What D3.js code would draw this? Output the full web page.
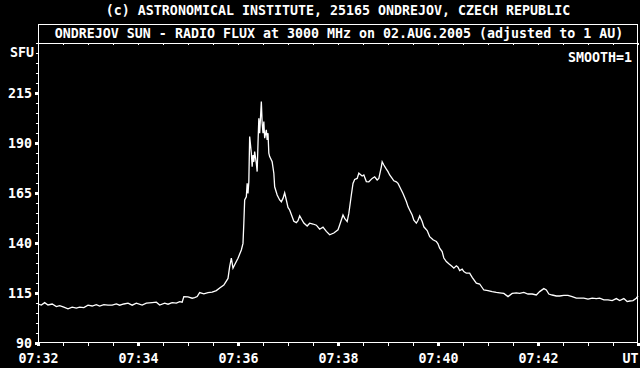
<!DOCTYPE html>
<html>
<head>
<meta charset="utf-8">
<script src="https://cdn.jsdelivr.net/npm/d3@7"></script>
<style>
  body { margin: 0; background: #000; }
  text { font-family: "DejaVu Sans Mono", monospace; font-weight: bold; font-size: 13.3px; fill: #fff; }
</style>
</head>
<body>
<div id="fluxChart"></div>
<script>
// data: seconds after 07:32:00 UT and flux in SFU
var timeSec = [0,4,8,12,17,22,26,31,36,41,46,50,55,60,65,70,74,79,84,89,94,98,103,108,113,118,
  125,130,137,142,146,152,156,161,166,170,173,175,180,185,188,191,194,199,204,209,214,218,223,
  228,230,232,234,236,240,244,246,247,248,250,251,252,253,254,256,257,258,259,260,262,263,264,265,
  266,268,269,270,271,272,274,275,276,277,278,281,283,284,287,290,292,294,296,298,300,302,305,307,
  310,312,314,317,319,323,326,330,334,338,342,346,350,355,360,362,366,368,371,373,376,378,380,383,
  385,389,391,394,397,401,404,407,409,412,413,415,418,420,422,425,427,430,432,434,438,442,444,446,
  449,451,454,456,458,461,463,467,470,474,478,480,482,485,487,490,493,497,499,502,504,506,509,511,
  514,518,521,526,530,535,540,545,550,554,559,564,569,574,578,583,588,593,598,602,607,610,613,617,
  622,626,631,636,641,646,650,655,660,665,670,674,679,684,689,694,698,703,707,710,714,718,720];
var fluxSfu = [109.5,109.0,110.2,109.0,109.5,108.2,108.7,107.9,107.1,107.9,107.4,107.9,107.7,108.9,
  108.5,109.2,108.5,109.2,108.9,108.9,109.5,108.9,109.5,109.9,108.9,109.9,
  109.0,109.9,110.2,110.4,109.0,109.9,109.4,110.2,109.9,110.7,110.4,113.2,113.1,112.4,112.7,113.2,
  115.2,114.6,115.2,115.4,116.2,117.5,119.0,
  122.3,128.2,132.4,127.4,129.1,132.4,136.5,139.8,149.9,161.5,163.1,169.8,164.8,170.6,193.2,185.0,
  178.1,184.0,180.6,185.7,179.8,175.7,189.8,202.4,
  194.9,210.7,199.9,194.9,200.7,192.4,196.6,191.5,194.9,184.9,183.2,180.6,174.9,168.1,164.0,161.5,
  160.6,162.3,165.1,161.5,157.8,156.5,153.1,150.9,
  150.2,151.2,153.6,151.4,150.0,148.5,149.9,149.5,148.9,146.9,147.9,145.8,144.1,145.0,146.6,149.0,
  154.0,152.3,150.7,154.8,164.0,169.8,171.8,172.3,
  174.9,173.5,174.0,170.7,170.6,172.3,173.1,171.5,172.3,178.1,180.6,179.0,176.9,175.7,174.0,172.3,
  171.1,170.6,169.8,168.1,164.8,160.7,158.2,156.5,
  154.0,151.4,149.9,151.4,153.5,150.7,148.1,146.2,143.2,141.6,140.8,139.6,137.4,135.7,132.5,130.7,
  129.6,128.2,127.4,128.6,127.9,126.2,126.9,125.7,
  124.9,124.9,122.8,119.9,119.5,116.5,116.2,115.7,115.3,115.1,114.8,113.2,114.8,115.1,114.8,115.3,
  114.5,114.5,114.0,115.7,117.2,116.5,114.5,114.0,
  113.5,113.5,113.8,113.8,113.2,112.4,112.4,112.4,111.9,112.4,112.2,112.4,111.6,111.6,111.2,112.2,
  111.2,112.2,110.7,111.0,111.2,112.4,113.5];

var yLabelValues = [90,115,140,165,190,215];
var xLabelSec = [0,120,240,360,480,600,720];
var xLabelText = ["07:32","07:34","07:36","07:38","07:40","07:42","UT"];

var titleTop = "(c) ASTRONOMICAL INSTITUTE, 25165 ONDREJOV, CZECH REPUBLIC";
var titleBox = "ONDREJOV SUN - RADIO FLUX at 3000 MHz on 02.AUG.2005 (adjusted to 1 AU)";

// set the dimensions and margins of the graph
var margin = {top: 43, right: 2, bottom: 25, left: 38},
    width = 640 - margin.left - margin.right,
    height = 368 - margin.top - margin.bottom;

var root = d3.select("#fluxChart")
    .append("svg")
    .attr("width", 640)
    .attr("height", 368)
    .style("background", "#000");

var svg = root.append("g")
    .attr("transform", "translate(" + margin.left + "," + margin.top + ")");

var x = d3.scaleLinear().domain([0, 720]).range([0, width]);
var y = d3.scaleLinear().domain([90, 240]).range([height, 0]);

// titles
root.append("text")
    .attr("x", 338).attr("y", 15)
    .attr("text-anchor", "middle")
    .text(titleTop);

// frame with title box on top
root.append("rect")
    .attr("x", margin.left + 0.5).attr("y", 24.5)
    .attr("width", width - 1).attr("height", height + 19 - 1)
    .attr("fill", "none").attr("stroke", "#fff");
root.append("line")
    .attr("x1", margin.left).attr("x2", margin.left + width)
    .attr("y1", margin.top + 0.5).attr("y2", margin.top + 0.5)
    .attr("stroke", "#fff");
root.append("text")
    .attr("x", 339).attr("y", 37.5)
    .attr("text-anchor", "middle")
    .text(titleBox);

function styleAxis(g, w) {
    g.select(".domain").remove();
    g.selectAll(".tick line").attr("stroke", "#fff").attr("stroke-width", w)
        .attr("shape-rendering", "crispEdges");
}

// bottom axis: minor ticks each 30 s, square marks each 2 min
svg.append("g")
    .attr("transform", "translate(0," + height + ")")
    .call(d3.axisBottom(x).tickValues(d3.range(0, 721, 30)).tickSize(3).tickFormat(""))
    .call(styleAxis, 1);
var xMajor = svg.append("g")
    .attr("transform", "translate(0," + height + ")")
    .call(d3.axisBottom(x).tickValues(xLabelSec).tickSize(3).tickPadding(8)
        .tickFormat(function(d, i) { return xLabelText[i]; }))
    .call(styleAxis, 3);
xMajor.selectAll("text")
    .attr("fill", "#fff")
    .attr("text-anchor", function(d) { return d == 720 ? "end" : "middle"; });

// top border ticks pointing in
svg.append("g")
    .call(d3.axisBottom(x).tickValues(d3.range(0, 721, 30)).tickSize(2).tickFormat(""))
    .call(styleAxis, 1);

// left axis
svg.append("g")
    .call(d3.axisLeft(y).tickValues(d3.range(90, 241, 5)).tickSize(2).tickFormat(""))
    .call(styleAxis, 1);
svg.append("g")
    .call(d3.axisLeft(y).tickValues(yLabelValues).tickSize(3).tickPadding(3))
    .call(styleAxis, 3)
    .selectAll("text").attr("fill", "#fff");

root.append("text")
    .attr("x", 34).attr("y", 57)
    .attr("text-anchor", "end")
    .text("SFU");
root.append("text")
    .attr("x", 632).attr("y", 62)
    .attr("text-anchor", "end")
    .text("SMOOTH=1");

// flux curve
var line = d3.line()
    .x(function(d, i) { return x(timeSec[i]); })
    .y(function(d) { return y(d); });

svg.append("path")
    .datum(fluxSfu)
    .attr("d", line)
    .attr("fill", "none")
    .attr("stroke", "#fff")
    .attr("stroke-width", 1.3);
</script>
</body>
</html>
